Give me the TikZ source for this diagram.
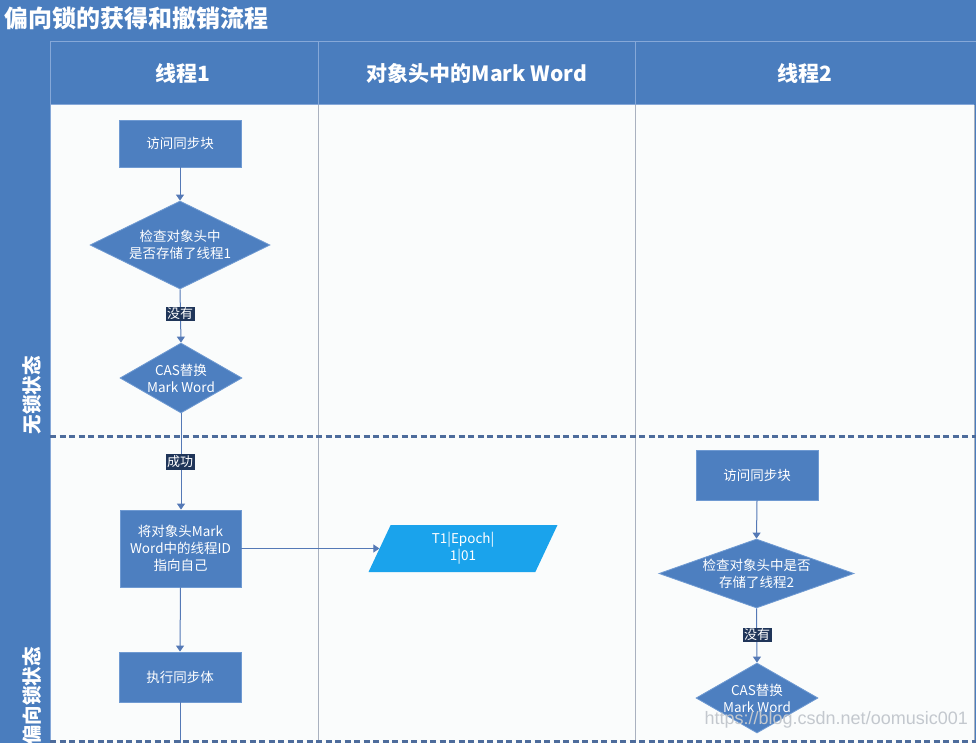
\documentclass[tikz,border=0pt]{standalone}
\usepackage{fontspec}
\setmainfont{Noto Sans CJK SC}
\newfontfamily\wmfont{Liberation Sans}
\usetikzlibrary{shapes.geometric,arrows.meta}
\definecolor{bgblue}{HTML}{4A7DBE}
\definecolor{boxblue}{HTML}{4D7FC0}
\definecolor{boxedge}{HTML}{6F9AD2}
\definecolor{hdrline}{HTML}{86A8D8}
\definecolor{bodywhite}{HTML}{FAFCFC}
\definecolor{lanegray}{HTML}{A9B1BF}
\definecolor{linkblue}{HTML}{5479B6}
\definecolor{dashcol}{HTML}{4D6C9C}
\definecolor{lblbg}{HTML}{1F3559}
\definecolor{cyanbox}{HTML}{1AA3EC}
\definecolor{wmgray}{HTML}{C3C8CE}
\tikzset{
  procbox/.style={draw=boxedge, line width=0.8pt, fill=boxblue, text=white,
    font=\fontsize{13.5}{17}\selectfont, align=center, inner sep=2pt},
  decshape/.style={diamond, draw=boxedge, line width=0.8pt, fill=boxblue, inner sep=0pt},
  dectext/.style={text=white, font=\fontsize{13.5}{17}\selectfont, align=center, inner sep=0pt},
  edgelbl/.style={fill=lblbg, text=white, font=\fontsize{13}{15}\selectfont, inner sep=1.5pt},
  flow/.style={draw=linkblue, line width=1pt, -{Triangle[width=8pt,length=6pt]}},
  plainflow/.style={draw=linkblue, line width=1pt},
  hdrtext/.style={text=white, font=\bfseries\fontsize{21}{25}\selectfont},
  sidetext/.style={text=white, font=\bfseries\fontsize{19.5}{23}\selectfont, rotate=90},
  swimdash/.style={draw=dashcol, line width=2.8pt, dash pattern=on 6pt off 3.5pt},
}
\begin{document}
\begin{tikzpicture}[x=1pt,y=-1pt]
\useasboundingbox (0,0) rectangle (976,743);
% background frame
\fill[bgblue] (0,0) rectangle (976,743);
\fill[bodywhite] (50,105) rectangle (974,743);
% header borders
\draw[hdrline, line width=1pt] (50,743) -- (50,42) -- (976,42);
\draw[hdrline, line width=1pt] (50,105) -- (974,105);
\draw[hdrline, line width=1pt] (318,42) -- (318,105);
\draw[hdrline, line width=1pt] (635,42) -- (635,105);
% lane dividers
\draw[lanegray, line width=1pt] (318,105) -- (318,743);
\draw[lanegray, line width=1pt] (635,105) -- (635,743);
\draw[lanegray, line width=0.8pt] (974,105) -- (974,743);
% phase separators
\draw[swimdash] (50,436.5) -- (976,436.5);
\draw[swimdash] (50,741.5) -- (976,741.5);
% title and headers
\node[anchor=west, text=white, font=\bfseries\fontsize{24}{28}\selectfont, inner sep=0pt] (title) at (4,18) {偏向锁的获得和撤销流程};
\node[hdrtext] (h1) at (183,73) {线程1};
\node[hdrtext] (h2) at (477,73) {对象头中的Mark Word};
\node[hdrtext] (h3) at (805,73) {线程2};
\node[sidetext] (s1) at (32,395) {无锁状态};
\node[sidetext, anchor=west, inner sep=0pt] (s2) at (32,745) {偏向锁状态};
% thread 1
\node[procbox, minimum width=122pt, minimum height=47pt] (b1) at (180,143.5) {访问同步块};
\node[decshape, minimum width=180pt, minimum height=88pt] (d1) at (180,245) {};
\node[dectext] (d1t) at (d1.center) {检查对象头中\\是否存储了线程1};
\node[decshape, minimum width=122pt, minimum height=70pt] (d2) at (181,378) {};
\node[dectext] (d2t) at (d2.center) {CAS替换\\Mark Word};
\node[procbox, minimum width=121pt, minimum height=77pt] (b3) at (180.5,548.5) {将对象头Mark\\Word中的线程ID\\指向自己};
\node[procbox, minimum width=122pt, minimum height=50pt] (b4) at (180,677) {执行同步体};
\coordinate (e1) at (180,743);
\draw[flow] (b1.south) -- (d1.north);
\draw[flow] (d1.south) -- (d2.north);
\draw[flow] (d2.south) -- (b3.north -| d2.south);
\draw[flow] (b3.south) -- (b4.north);
\draw[plainflow] (b4.south) -- (e1);
\node[edgelbl] (l1) at (180,314) {没有};
\node[edgelbl] (l2) at (180,462) {成功};
% mark word
\node[trapezium, trapezium left angle=73.4, trapezium right angle=106.6, trapezium stretches=true,
  minimum width=190pt, minimum height=47pt, fill=cyanbox, text=white, inner sep=0pt,
  font=\fontsize{13.5}{17}\selectfont, align=center] (mw) at (463,548.5) {T1|Epoch|\\1|01};
\draw[flow] (b3.east) -- (mw.west);
% thread 2
\node[procbox, minimum width=122pt, minimum height=50pt] (c1) at (757,475) {访问同步块};
\node[decshape, minimum width=195pt, minimum height=69pt] (c2) at (756.5,573.5) {};
\node[dectext] (c2t) at (c2.center) {检查对象头中是否\\存储了线程2};
\node[decshape, minimum width=122pt, minimum height=70pt] (c3) at (757,698) {};
\node[dectext] (c3t) at (c3.center) {CAS替换\\Mark Word};
\draw[flow] (c1.south) -- (c2.north);
\draw[flow] (c2.south) -- (c3.north);
\node[edgelbl] (l3) at (757,635) {没有};
% watermark
\node[anchor=east, text=wmgray, font=\wmfont\fontsize{18}{20}\selectfont, inner sep=0pt] (wm) at (968,720) {https://blog.csdn.net/oomusic001};
\end{tikzpicture}
\end{document}
